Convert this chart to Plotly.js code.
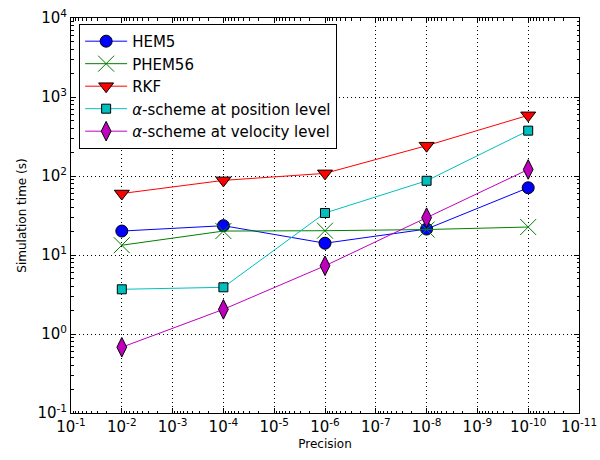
<!DOCTYPE html>
<html>
<head>
<meta charset="utf-8">
<script src="https://cdn.plot.ly/plotly-3.0.1.min.js"></script>
<style>html,body{margin:0;padding:0;background:#fff;}#chart{width:600px;height:460px;}</style>
</head>
<body>
<div id="chart"></div>
<script>
// Data
const precision = [1e-2, 1e-4, 1e-6, 1e-8, 1e-10];
const hem5 = [20.1, 23.5, 14.1, 21.3, 71];
const phem56 = [13.3, 20.1, 20.3, 21.0, 22.6];
const rkf = [60, 88, 108, 242, 586];
const alphaPos = [3.68, 3.9, 34, 87, 375];
const alphaVel = [0.68, 2.05, 7.3, 29.7, 121];

const seriesNames = ["HEM5", "PHEM56", "RKF", "<i>α</i>-scheme at position level", "<i>α</i>-scheme at velocity level"];

const xTickVals = [1e-1,1e-2,1e-3,1e-4,1e-5,1e-6,1e-7,1e-8,1e-9,1e-10,1e-11];
const xTickText = ["10<sup>-1</sup>","10<sup>-2</sup>","10<sup>-3</sup>","10<sup>-4</sup>","10<sup>-5</sup>","10<sup>-6</sup>","10<sup>-7</sup>","10<sup>-8</sup>","10<sup>-9</sup>","10<sup>-10</sup>","10<sup>-11</sup>"];
const yTickVals = [1e-1,1e0,1e1,1e2,1e3,1e4];
const yTickText = ["10<sup>-1</sup>","10<sup>0</sup>","10<sup>1</sup>","10<sup>2</sup>","10<sup>3</sup>","10<sup>4</sup>"];

const traces = [
  {x: precision, y: hem5, name: seriesNames[0], mode: "lines+markers",
   line: {color: "#0000ff", width: 1},
   marker: {symbol: "circle", size: 12, color: "#0000ff", line: {color: "#000", width: 1}}},
  {x: precision, y: phem56, name: seriesNames[1], mode: "lines+markers",
   line: {color: "#008000", width: 1},
   marker: {symbol: "x-thin", size: 16, color: "#008000", line: {color: "#008000", width: 1}}},
  {x: precision, y: rkf, name: seriesNames[2], mode: "lines+markers",
   line: {color: "#ff0000", width: 1},
   marker: {symbol: "triangle-down", size: 13, color: "#ff0000", line: {color: "#000", width: 1}}},
  {x: precision, y: alphaPos, name: seriesNames[3], mode: "lines+markers",
   line: {color: "#00bfbf", width: 1},
   marker: {symbol: "square", size: 9, color: "#00bfbf", line: {color: "#000", width: 1}}},
  {x: precision, y: alphaVel, name: seriesNames[4], mode: "lines+markers",
   line: {color: "#bf00bf", width: 1},
   marker: {symbol: "diamond-tall", size: 14, color: "#bf00bf", line: {color: "#000", width: 1}}}
];

const axisCommon = {
  type: "log", showline: true, linecolor: "#000", linewidth: 1, mirror: "allticks",
  ticks: "inside", ticklen: 5, tickcolor: "#000", tickwidth: 1,
  showgrid: true, gridcolor: "#000", griddash: "1px,3px", gridwidth: 1,
  zeroline: false, tickmode: "array",
  tickfont: {family: "DejaVu Sans", size: 15, color: "#000"},
  minor: {ticks: "inside", ticklen: 2.5, tickcolor: "#000", dtick: "D1", showgrid: false}
};

const layout = {
  width: 600, height: 460,
  margin: {l: 71, r: 21, t: 18, b: 47},
  paper_bgcolor: "#fff", plot_bgcolor: "#fff",
  showlegend: true,
  legend: {x: 0.016, y: 0.985, xanchor: "left", yanchor: "top",
           bgcolor: "#fff", bordercolor: "#000", borderwidth: 1, itemwidth: 42,
           font: {family: "DejaVu Sans", size: 15, color: "#000"}},
  xaxis: Object.assign({}, axisCommon, {
    range: [-1, -11], autorange: false,
    tickvals: xTickVals, ticktext: xTickText,
    title: {text: "Precision", font: {family: "DejaVu Sans", size: 12, color: "#000"}, standoff: 4}
  }),
  yaxis: Object.assign({}, axisCommon, {
    range: [-1, 4], autorange: false,
    tickvals: yTickVals, ticktext: yTickText,
    title: {text: "Simulation time (s)", font: {family: "DejaVu Sans", size: 12, color: "#000"}, standoff: 8}
  })
};

Plotly.newPlot("chart", traces, layout, {displayModeBar: false, staticPlot: true});
</script>
</body>
</html>
